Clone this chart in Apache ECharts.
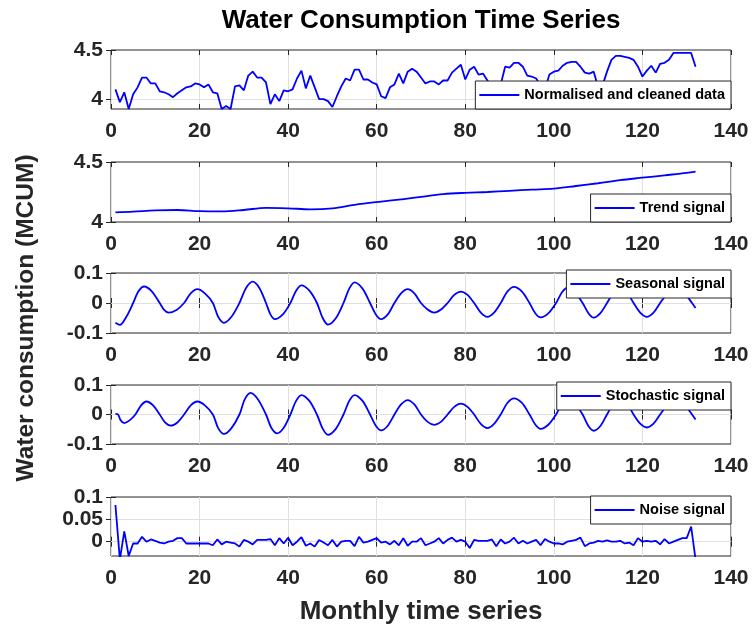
<!DOCTYPE html>
<html>
<head>
<meta charset="utf-8">
<script src="https://cdn.jsdelivr.net/npm/echarts@6/dist/echarts.min.js"></script>
<style>html,body{margin:0;padding:0;background:#fff;}#c{width:753px;height:633px;}</style>
</head>
<body>
<div id="c"></div>
<script>
// ---- data (monthly index 1..132) ----
const xTicks = [0, 20, 40, 60, 80, 100, 120, 140];
const seriesNames = ['Normalised and cleaned data', 'Trend signal', 'Seasonal signal', 'Stochastic signal', 'Noise signal'];

const cleanedData = [4.10,3.97,4.07,3.90,4.05,4.12,4.22,4.22,4.16,4.16,4.08,4.07,4.05,4.02,4.06,4.09,4.12,4.13,4.16,4.15,
  4.12,4.15,4.07,4.06,3.90,3.93,3.90,4.13,4.14,4.09,4.24,4.28,4.22,4.22,4.17,3.95,4.05,3.98,4.09,4.08,
  4.10,4.21,4.29,4.11,4.24,4.12,4.00,4.00,3.98,3.92,4.03,4.13,4.21,4.19,4.30,4.30,4.20,4.20,4.17,4.15,
  4.03,4.01,4.12,4.15,4.26,4.16,4.28,4.31,4.28,4.22,4.16,4.18,4.18,4.15,4.19,4.19,4.27,4.31,4.35,4.20,
  4.30,4.33,4.25,4.26,4.19,4.12,4.10,4.15,4.33,4.32,4.37,4.37,4.33,4.24,4.23,4.21,4.14,4.10,4.25,4.28,
  4.29,4.34,4.37,4.38,4.38,4.33,4.27,4.26,4.28,4.12,4.14,4.28,4.40,4.44,4.44,4.43,4.42,4.40,4.33,4.23,
  4.29,4.34,4.27,4.36,4.37,4.40,4.47,4.47,4.47,4.47,4.47,4.33];

const trendData = [[1,4.08],[5,4.086],[10,4.097],[15,4.10],[20,4.09],[25,4.088],[30,4.10],[35,4.118],[40,4.114],
  [45,4.106],[50,4.114],[55,4.143],[60,4.166],[65,4.186],[70,4.21],[75,4.232],[80,4.243],[85,4.25],[90,4.26],
  [95,4.27],[100,4.278],[105,4.30],[110,4.323],[115,4.349],[120,4.369],[125,4.389],[130,4.409],[132,4.42]];

const seasonalData = [[1,-0.066],[2,-0.073],[3.5,-0.045],[5,0],[6.2,0.039],[7.5,0.055],[9.2,0.039],[11,0],[12,-0.023],
  [13,-0.032],[14.8,-0.023],[16.5,0],[18,0.032],[19.5,0.046],[21.2,0.032],[23,0],[24.2,-0.046],[25.5,-0.066],[27.2,-0.046],
  [29,0],[30.5,0.05],[32,0.071],[33.5,0.05],[35,0],[36,-0.038],[37,-0.054],[38.8,-0.038],[40.5,0],[41.8,0.041],[43,0.059],
  [44.8,0.041],[46.5,0],[47.8,-0.05],[49,-0.072],[50.8,-0.05],[52.5,0],[53.8,0.048],[55,0.069],[56.8,0.048],[58.5,0],
  [59.8,-0.038],[61,-0.054],[62.5,-0.038],[64,0],[65.5,0.032],[67,0.046],[68.5,0.032],[70,0],[71.5,-0.022],[73,-0.032],
  [74.5,-0.022],[76,0],[77.5,0.027],[79,0.038],[80.5,0.027],[82,0],[83.5,-0.032],[85,-0.046],[86.5,-0.032],[88,0],
  [89.5,0.038],[91,0.054],[92.8,0.038],[94.5,0],[95.8,-0.034],[97,-0.048],[98.8,-0.034],[100.5,0],[101.8,0.035],[103,0.05],
  [104.8,0.035],[106.5,0],[107.8,-0.034],[109,-0.049],[110.5,-0.034],[112,0],[113.5,0.035],[115,0.05],[116.5,0.035],[118,0],
  [119.5,-0.032],[121,-0.046],[122.5,-0.032],[124,0],[125.8,0.034],[127.5,0.048],[129.4,0.034],[131.2,0],[132,-0.017]];

const stochasticData = [[1,0.002],[1.6,0],[2.2,-0.02],[3,-0.029],[4.2,-0.02],[5.5,0],[6.8,0.031],[8,0.044],[9.5,0.031],
  [11,0],[12.2,-0.027],[13.5,-0.038],[15,-0.027],[16.5,0],[18,0.031],[19.5,0.044],[21.2,0.031],[23,0],[24.2,-0.046],
  [25.5,-0.066],[27.2,-0.046],[29,0],[30.2,0.051],[31.5,0.073],[33.2,0.051],[35,0],[36.2,-0.045],[37.5,-0.064],[39,-0.045],
  [40.5,0],[41.8,0.046],[43,0.066],[44.8,0.046],[46.5,0],[47.8,-0.048],[49,-0.069],[50.8,-0.048],[52.5,0],[53.8,0.046],
  [55,0.066],[56.8,0.046],[58.5,0],[59.8,-0.038],[61,-0.054],[62.5,-0.038],[64,0],[65.5,0.034],[67,0.049],[68.5,0.034],
  [70,0],[71.5,-0.025],[73,-0.035],[74.5,-0.025],[76,0],[77.5,0.026],[79,0.037],[80.5,0.026],[82,0],[83.5,-0.032],
  [85,-0.046],[86.5,-0.032],[88,0],[89.5,0.039],[91,0.055],[92.8,0.039],[94.5,0],[95.8,-0.034],[97,-0.049],[98.8,-0.034],
  [100.5,0],[101.8,0.035],[103,0.05],[104.8,0.035],[106.5,0],[107.8,-0.039],[109,-0.055],[110.5,-0.039],[112,0],
  [113.5,0.039],[115,0.055],[116.5,0.039],[118,0],[119.5,-0.031],[121,-0.044],[122.5,-0.031],[124,0],[125.8,0.035],
  [127.5,0.05],[129.4,0.035],[131.2,0],[132,-0.017]];

const noiseData = [0.082,-0.040,0.023,-0.032,-0.004,-0.004,0.011,0.000,0.005,0.002,-0.002,-0.004,0.000,0.002,0.008,0.008,-0.004,-0.004,-0.004,-0.004,
  -0.004,-0.004,-0.008,0.005,-0.006,0.000,-0.002,-0.004,-0.011,0.004,0.000,-0.006,0.004,0.004,0.004,0.006,-0.008,0.008,-0.004,0.009,
  -0.008,0.000,0.010,-0.009,-0.004,-0.011,0.004,-0.002,-0.008,0.004,-0.011,0.000,0.002,0.002,-0.010,0.011,-0.002,0.000,0.004,0.008,
  -0.002,0.000,-0.006,0.002,-0.008,0.008,-0.009,0.000,0.000,0.008,-0.008,-0.004,0.000,0.008,-0.004,0.004,0.009,0.000,0.004,0.000,
  -0.014,0.004,0.002,0.002,0.002,0.005,-0.010,0.005,-0.004,0.000,0.009,-0.004,0.002,-0.004,0.000,0.004,-0.008,0.006,0.000,-0.004,
  -0.004,-0.006,0.000,0.002,0.004,0.009,-0.010,-0.004,-0.002,0.002,0.000,0.003,0.000,0.000,0.002,-0.004,-0.002,-0.008,0.008,0.000,
  0.002,0.000,0.002,-0.006,0.006,-0.004,0.000,0.004,0.008,0.008,0.034,-0.040];

const yMins = [3.9, 4, -0.1, -0.1, -0.032];
const yMaxs = [4.5, 4.5, 0.1, 0.1, 0.1];
const yTickValues = [[4, 4.5], [4, 4.5], [-0.1, 0, 0.1], [-0.1, 0, 0.1], [0, 0.05, 0.1]];

// ---- layout ----
const FONT = '"Liberation Sans", Arial, Helvetica, sans-serif';
const AX = '#262626';
const GRIDC = '#e0e0e0';
const gridTops = [50, 162, 273, 385, 497];
const gridHeights = [59, 60, 60, 59, 59];
const legendTops = [81, 194, 270, 382, 496];
const smoothness = [false, 0.35, 0.3, 0.3, false];

const toPairs = arr => arr.map((v, i) => [i + 1, v]);
const seriesData = [toPairs(cleanedData), trendData, seasonalData, stochasticData, toPairs(noiseData)];

const grid = [], xAxis = [], yAxis = [], series = [], legend = [];
for (let i = 0; i < 5; i++) {
  grid.push({left: 111, right: 22, top: gridTops[i], height: gridHeights[i], show: true,
    borderColor: AX, borderWidth: 1, backgroundColor: '#fff', containLabel: false});
  // bottom x axis
  xAxis.push({gridIndex: i, type: 'value', min: 0, max: 140, interval: 20, position: 'bottom',
    axisLine: {show: false},
    axisTick: {show: true, inside: true, length: 5, lineStyle: {color: AX}},
    axisLabel: {show: true, margin: 12, color: AX, fontSize: 21, fontWeight: 'bold', fontFamily: FONT},
    splitLine: {show: true, lineStyle: {color: GRIDC, width: 1}}});
  // top x axis (ticks only)
  xAxis.push({gridIndex: i, type: 'value', min: 0, max: 140, interval: 20, position: 'top',
    axisLine: {show: false},
    axisTick: {show: true, inside: true, length: 5, lineStyle: {color: AX}},
    axisLabel: {show: false}, splitLine: {show: false}});
  // left y axis
  yAxis.push({gridIndex: i, type: 'value', min: yMins[i], max: yMaxs[i], position: 'left',
    axisLine: {show: false},
    axisTick: {show: true, inside: true, length: 5, lineStyle: {color: AX}, customValues: yTickValues[i]},
    axisLabel: {show: true, margin: 8, color: AX, fontSize: 21, fontWeight: 'bold', fontFamily: FONT,
      customValues: yTickValues[i], formatter: v => String(+(+v).toFixed(3))},
    splitLine: {show: false}});
  // right y axis (ticks only)
  yAxis.push({gridIndex: i, type: 'value', min: yMins[i], max: yMaxs[i], position: 'right',
    axisLine: {show: false},
    axisTick: {show: true, inside: true, length: 5, lineStyle: {color: AX}, customValues: yTickValues[i]},
    axisLabel: {show: false, customValues: yTickValues[i]}, splitLine: {show: false}});
  // horizontal grid lines at the y tick values (drawn beneath the data line)
  series.push({name: 'grid' + i, type: 'line', xAxisIndex: 2 * i, yAxisIndex: 2 * i, data: [],
    silent: true, z: 1,
    markLine: {silent: true, symbol: 'none', label: {show: false}, animation: false, z: 1,
      lineStyle: {color: GRIDC, width: 1, type: 'solid'},
      data: yTickValues[i].filter(v => v > yMins[i] && v < yMaxs[i]).map(v => ({yAxis: v}))}});
  series.push({name: seriesNames[i], type: 'line', xAxisIndex: 2 * i, yAxisIndex: 2 * i,
    data: seriesData[i], showSymbol: false, symbol: 'none', smooth: smoothness[i],
    lineStyle: {color: '#0000ff', width: 1.8}, itemStyle: {color: '#0000ff'}, clip: true, z: 10});
  legend.push({data: [seriesNames[i]], right: 22, top: legendTops[i], orient: 'horizontal',
    backgroundColor: '#fff', borderColor: AX, borderWidth: 1, borderRadius: 0,
    padding: [5, 6, 5, 4], itemWidth: 40, itemHeight: 2, icon: 'rect', selectedMode: false, z: 20,
    textStyle: {color: '#000', fontSize: 14.5, fontWeight: 'bold', fontFamily: FONT, lineHeight: 18}});
}

const chart = echarts.init(document.getElementById('c'), null, {renderer: 'canvas'});
chart.setOption({
  animation: false,
  backgroundColor: '#fff',
  grid, xAxis, yAxis, series, legend,
  graphic: [
    {type: 'text', x: 421, y: 21, style: {text: 'Water Consumption Time Series', fill: '#000',
      font: 'bold 26px ' + FONT, textAlign: 'center', textVerticalAlign: 'middle'}},
    {type: 'text', x: 421, y: 612, style: {text: 'Monthly time series', fill: AX,
      font: 'bold 26px ' + FONT, textAlign: 'center', textVerticalAlign: 'middle'}},
    {type: 'text', x: 26, y: 318, rotation: Math.PI / 2, style: {text: 'Water consumption (MCUM)', fill: AX,
      font: 'bold 24.5px ' + FONT, textAlign: 'center', textVerticalAlign: 'middle'}}
  ]
});
</script>
</body>
</html>
